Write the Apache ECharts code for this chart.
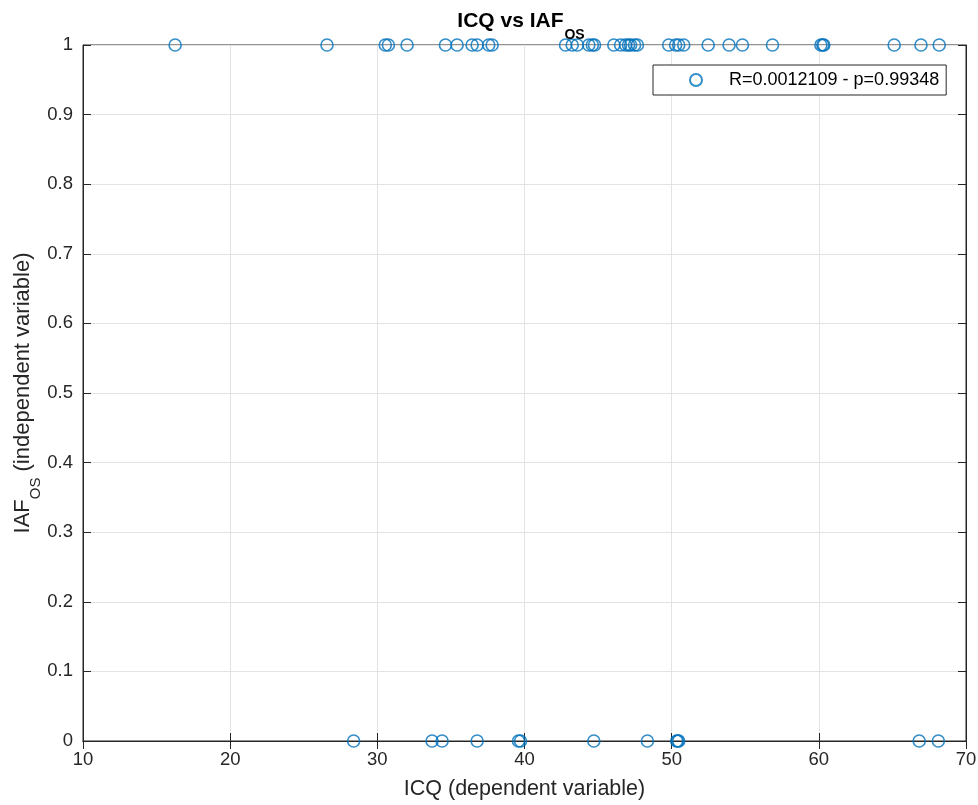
<!DOCTYPE html>
<html>
<head>
<meta charset="utf-8">
<script src="https://cdn.jsdelivr.net/npm/echarts@6/dist/echarts.min.js"></script>
<style>html,body{margin:0;padding:0;background:#fff}#c{width:978px;height:805px}</style>
</head>
<body>
<div id="c"></div>
<script>
// ICQ values (x) for subjects with IAF_OS = 1 and IAF_OS = 0
var icqWithIAF = [16.26, 26.58, 30.54, 30.75, 32.02, 34.63, 35.42, 36.44, 36.78, 37.57, 37.80,
  42.79, 43.24, 43.59, 44.37, 44.61, 44.76, 46.07, 46.53, 46.87, 47.07, 47.21, 47.48, 47.67,
  49.80, 50.27, 50.48, 50.82, 52.48, 53.90, 54.81, 56.85, 60.14, 60.27, 60.34, 65.12, 66.94, 68.18];
var icqWithoutIAF = [28.39, 33.72, 34.40, 36.78, 39.59, 39.73, 44.71, 48.35, 50.34, 50.41, 50.48, 66.82, 68.12];
var iafHigh = 1;
var iafLow = 0;
var seriesName = 'R=0.0012109 - p=0.99348';
var xTicks = [10, 20, 30, 40, 50, 60, 70];
var yTicks = [0, 0.1, 0.2, 0.3, 0.4, 0.5, 0.6, 0.7, 0.8, 0.9, 1];

var points = [];
icqWithIAF.forEach(function (x) { points.push([x, iafHigh]); });
icqWithoutIAF.forEach(function (x) { points.push([x, iafLow]); });

var blue = '#0072BD';
var axisCol = '#262626';
var font = 'Liberation Sans, Arial, Helvetica, sans-serif';

var chart = echarts.init(document.getElementById('c'), null, {renderer: 'canvas'});
chart.setOption({
  animation: false,
  backgroundColor: '#fff',
  title: {
    text: '{a|ICQ vs IAF}{b|OS}',
    left: 521,
    top: 10,
    padding: 0,
    textAlign: 'center',
    textStyle: {
      rich: {
        a: {fontFamily: font, fontSize: 21, fontWeight: 'bold', color: '#000', lineHeight: 22},
        b: {fontFamily: font, fontSize: 14, fontWeight: 'bold', color: '#000', lineHeight: 14, padding: [28, 0, 0, 1]}
      }
    }
  },
  legend: {
    left: 653,
    top: 65,
    padding: [6, 7, 6, 36],
    itemWidth: 56,
    itemHeight: 12,
    borderColor: axisCol,
    borderWidth: 1,
    backgroundColor: '#fff',
    textStyle: {fontFamily: font, fontSize: 18, color: '#000', lineHeight: 18},
    data: [{name: seriesName, icon: 'circle'}]
  },
  grid: {
    left: 83, right: 12, top: 45, bottom: 64,
    containLabel: false,
    outerBoundsMode: 'none',
    show: true, borderColor: axisCol, borderWidth: 1, backgroundColor: 'transparent'
  },
  xAxis: [{
    type: 'value', min: 10, max: 70, interval: 10,
    name: 'ICQ (dependent variable)', nameLocation: 'middle', nameGap: 37,
    nameMoveOverlap: false,
    nameTextStyle: {fontFamily: font, fontSize: 21.5, color: axisCol},
    axisLine: {show: true, onZero: false, lineStyle: {color: axisCol}},
    axisTick: {show: true, inside: true, length: 8, lineStyle: {color: axisCol}},
    axisLabel: {fontFamily: font, fontSize: 18.5, color: axisCol, margin: 9},
    splitLine: {show: true, lineStyle: {color: '#e3e3e3'}}
  }, {
    type: 'value', position: 'top', min: 10, max: 70, interval: 10,
    axisLine: {show: true, lineStyle: {color: axisCol}},
    axisTick: {show: true, inside: true, length: 8, lineStyle: {color: axisCol}},
    axisLabel: {show: false}, splitLine: {show: false}
  }],
  yAxis: [{
    type: 'value', min: 0, max: 1, interval: 0.1,
    name: '{a|IAF}{b|OS}{a| (independent variable)}', nameLocation: 'middle', nameGap: 49.5,
    nameMoveOverlap: false,
    nameTextStyle: {
      rich: {
        a: {fontFamily: font, fontSize: 22, color: axisCol, lineHeight: 22},
        b: {fontFamily: font, fontSize: 15, color: axisCol, lineHeight: 15, padding: [26, 0, 0, 0]}
      }
    },
    axisLine: {show: true, onZero: false, lineStyle: {color: axisCol}},
    axisTick: {show: true, inside: true, length: 8, lineStyle: {color: axisCol}},
    axisLabel: {fontFamily: font, fontSize: 18.5, color: axisCol, margin: 10,
      formatter: function (v) { return String(Math.round(v * 10) / 10); }},
    splitLine: {show: true, lineStyle: {color: '#e3e3e3'}}
  }, {
    type: 'value', position: 'right', min: 0, max: 1, interval: 0.1,
    axisLine: {show: true, lineStyle: {color: axisCol}},
    axisTick: {show: true, inside: true, length: 8, lineStyle: {color: axisCol}},
    axisLabel: {show: false}, splitLine: {show: false}
  }],
  series: [{
    name: seriesName,
    type: 'scatter',
    xAxisIndex: 0, yAxisIndex: 0,
    symbol: 'circle',
    symbolSize: 12,
    clip: false,
    itemStyle: {color: 'rgba(255,255,255,0)', borderColor: blue, borderWidth: 1.6},
    data: points
  }]
});
</script>
</body>
</html>
